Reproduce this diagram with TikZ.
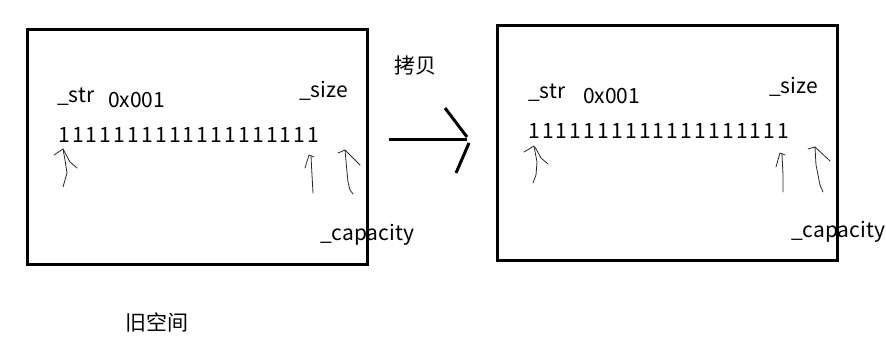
\documentclass[tikz,border=0pt]{standalone}
\usepackage{fontspec}
\setmainfont{Noto Sans CJK SC}
\begin{document}
\begin{tikzpicture}[x=1pt,y=-1pt,
  lbl/.style={inner sep=0pt, anchor=base west, font=\fontsize{21}{25}\selectfont},
  digits/.style={inner sep=0pt, anchor=base west, font=\fontsize{21}{25}\selectfont\addfontfeature{LetterSpace=10.5}},
  cjk/.style={inner sep=0pt, anchor=base west, font=\fontsize{21}{25}\selectfont},
  memblock/.style={draw, line width=3pt, minimum width=340pt, minimum height=235pt, inner sep=0pt},
  hand/.style={line width=0.8pt, line join=round, line cap=round, black!85},
  copyarrow/.style={line width=3pt}]
\useasboundingbox (0,0) rectangle (886,353);
% boxes
\node[memblock] (oldbox) at (197.5,147) {};
\node[memblock] (newbox) at (667.5,143) {};
% left texts
\node[lbl] (strA) at (57,102) {\_str};
\node[lbl] (addrA) at (108,107) {0x001};
\node[lbl] (sizeA) at (299,97) {\_size};
\node[digits] (onesA) at (58,142) {1111111111111111111};
\node[lbl] (capA) at (320,240) {\_capacity};
% right texts
\node[lbl] (strB) at (528,99) {\_str};
\node[lbl] (addrB) at (583,103) {0x001};
\node[lbl] (sizeB) at (769,93) {\_size};
\node[digits] (onesB) at (528,138) {1111111111111111111};
\node[lbl] (capB) at (791,237) {\_capacity};
% captions
\node[cjk] (copylbl) at (394,74) {拷贝};
\node[cjk] (oldlbl) at (125,330) {旧空间};
% copy arrow
\coordinate (ca0) at (389,139);
\coordinate (ca1) at (467,139);
\draw[copyarrow] (ca0) -- (ca1);
\draw[copyarrow] (445,108) -- (467,137);
\draw[copyarrow] (469,143) -- (456,173);
% hand-drawn arrows, old block
\draw[hand] (54,155) -- (63,149) -- (65,160) -- (67,173) -- (65,180) -- (63,187);
\draw[hand] (63,149) -- (70,162) -- (77,168);
\draw[hand] (305,168) -- (309,155) -- (314,157);
\draw[hand] (311,156) -- (312,175) -- (313,193);
\draw[hand] (338,153) -- (345,150) -- (360,165);
\draw[hand] (345,150) -- (347,172) -- (348,182) -- (350,190) -- (353,194);
% hand-drawn arrows, new block
\draw[hand] (524,152) -- (534,146) -- (537,162) -- (536,175) -- (533,183);
\draw[hand] (535,147) -- (541,158) -- (548,164);
\draw[hand] (776,167) -- (780,153) -- (785,155);
\draw[hand] (782,154) -- (783,175) -- (783,192);
\draw[hand] (808,149) -- (815,147) -- (830,161);
\draw[hand] (815,147) -- (816,165) -- (818,175) -- (820,185) -- (823,192);
\end{tikzpicture}
\end{document}
